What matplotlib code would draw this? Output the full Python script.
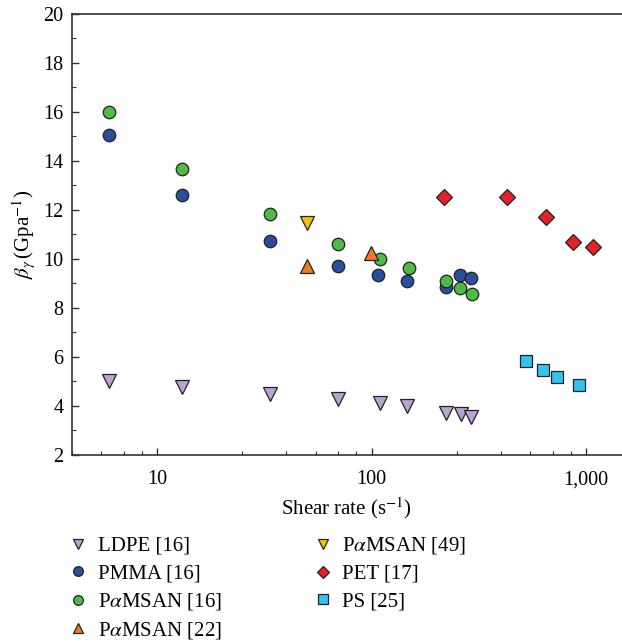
import numpy as np
import matplotlib
matplotlib.use("Agg")
import matplotlib.pyplot as plt
from matplotlib.lines import Line2D
from matplotlib.ticker import FixedLocator, FuncFormatter, NullFormatter

plt.rcParams['font.family'] = ['Liberation Serif', 'DejaVu Serif']
plt.rcParams['mathtext.fontset'] = 'stix'

# data
ldpe_x = [6.0, 13.0, 33.7, 70, 109, 147, 222, 260, 291]
ldpe_y = [5.03, 4.79, 4.49, 4.29, 4.11, 4.01, 3.70, 3.67, 3.56]

pmma_x = [6.0, 13.0, 33.7, 70, 107, 146, 222, 259, 291]
pmma_y = [15.05, 12.62, 10.72, 9.73, 9.33, 9.11, 8.84, 9.36, 9.21]

pamsan16_x = [6.0, 13.0, 33.7, 70, 109, 149, 222, 259, 293]
pamsan16_y = [16.0, 13.66, 11.82, 10.61, 10.01, 9.63, 9.10, 8.80, 8.58]

pamsan22_x = [50, 99]
pamsan22_y = [9.73, 10.26]

pamsan49_x = [50]
pamsan49_y = [11.46]

pet_x = [218, 426, 651, 871, 1082]
pet_y = [12.53, 12.53, 11.71, 10.68, 10.48]

ps_x = [526, 627, 731, 927]
ps_y = [5.82, 5.46, 5.18, 4.84]

series = [
    ("LDPE [16]", ldpe_x, ldpe_y, "v", "#b9a3d3", 10, 7.5),
    ("PMMA [16]", pmma_x, pmma_y, "o", "#2a4d9e", 9, 7),
    (r"P$\alpha$MSAN [16]", pamsan16_x, pamsan16_y, "o", "#4dbb45", 9, 7),
    (r"P$\alpha$MSAN [22]", pamsan22_x, pamsan22_y, "^", "#f07a20", 10, 7.5),
    (r"P$\alpha$MSAN [49]", pamsan49_x, pamsan49_y, "v", "#f6c200", 10, 7.5),
    ("PET [17]", pet_x, pet_y, "D", "#e8202a", 8, 6),
    ("PS [25]", ps_x, ps_y, "s", "#33c3f0", 8, 6.5),
]

fig = plt.figure(figsize=(6.22, 6.42), dpi=100)
ax = fig.add_axes([0.1153, 0.2913, 0.8847, 0.6869])

handles = []
for label, xs, ys, mk, col, ms, lms in series:
    ax.plot(xs, ys, linestyle="none", marker=mk, markersize=ms,
            markerfacecolor=col, markeredgecolor="#222222",
            markeredgewidth=0.9)
    handles.append(Line2D([], [], linestyle="none", marker=mk, markersize=lms,
                          markerfacecolor=col, markeredgecolor="#222222",
                          markeredgewidth=0.9, label=label))

ax.set_xscale("log")
ax.set_xlim(4.0, 1470)
ax.set_ylim(2, 20)

ax.xaxis.set_major_locator(FixedLocator([10, 100, 1000]))
ax.xaxis.set_major_formatter(FuncFormatter(lambda v, p: f"{int(v):,}"))
minor = [d * (1 + 1.5 * k) for d in [1, 10, 100] for k in range(1, 6)]
ax.xaxis.set_minor_locator(FixedLocator(minor))
ax.xaxis.set_minor_formatter(NullFormatter())

ax.set_yticks(np.arange(2, 21, 2))
ax.set_yticks(np.arange(3, 20, 2), minor=True)

ax.tick_params(which="both", direction="in", labelsize=14.5, color="#333333")
ax.tick_params(which="major", length=5, width=1)
ax.tick_params(which="minor", length=3, width=0.8)
ax.tick_params(axis="x", pad=11)
ax.tick_params(axis="y", pad=6)
ax.spines["right"].set_visible(False)
for s in ["left", "bottom", "top"]:
    ax.spines[s].set_linewidth(1.2)
    ax.spines[s].set_color("#333333")

ax.set_xlabel(r"Shear rate (s$^{-1}$)", fontsize=15, labelpad=4)
ax.set_ylabel(r"$\beta_{\gamma}\,$(Gpa$^{-1}$)", fontsize=15, labelpad=4)

fig.legend(handles=handles, loc="upper left", bbox_to_anchor=(0.109, 0.166),
           ncol=2, frameon=False, fontsize=15, borderpad=0,
           handlelength=1.0, handletextpad=0.43, columnspacing=4.35,
           labelspacing=0.38, borderaxespad=0)

fig.savefig("out.png", dpi=100)
